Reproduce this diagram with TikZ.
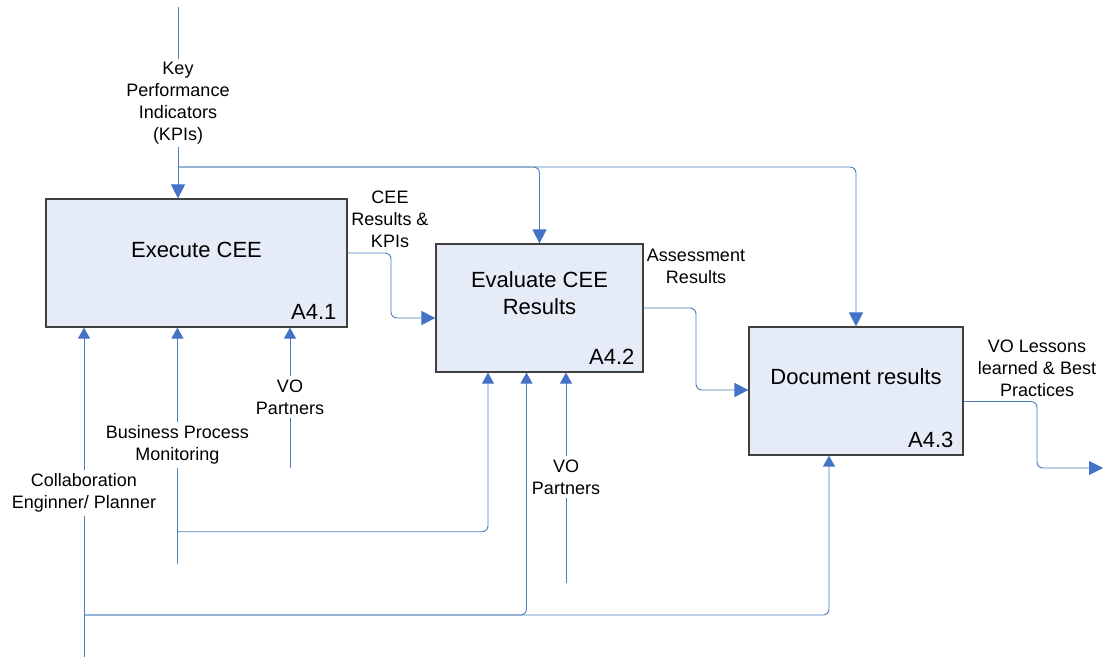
\documentclass[tikz,border=0pt]{standalone}
\usepackage{fontspec}
\setmainfont{Liberation Sans}
\usetikzlibrary{arrows.meta}
\definecolor{flowblue}{HTML}{4A7EBB}
\definecolor{tipblue}{HTML}{4472C4}
\definecolor{boxfill}{HTML}{E6ECF7}
\definecolor{boxline}{HTML}{404040}
\begin{document}
\begin{tikzpicture}[x=1pt,y=-1pt,
  flow/.style={draw=flowblue,line width=0.9pt,rounded corners=6pt},
  bigtip/.style={-{Triangle[length=14pt,width=14pt,fill=tipblue,color=tipblue]}},
  smalltip/.style={-{Triangle[length=11pt,width=12pt,fill=tipblue,color=tipblue]}},
  actbox/.style={draw=boxline,fill=boxfill,line width=1.2pt,inner sep=0pt},
  acttitle/.style={align=center,font=\fontsize{22}{26.5}\selectfont,inner sep=0pt},
  actid/.style={font=\fontsize{22}{26}\selectfont,inner sep=0pt,anchor=base east},
  lbl/.style={align=center,font=\fontsize{18}{22}\selectfont,inner sep=3pt}]
\useasboundingbox (0,0) rectangle (1103,657);

% activity boxes
\node[actbox,minimum width=301pt,minimum height=128pt] (b1) at (196.5,263) {};
\node[actbox,minimum width=207pt,minimum height=128pt] (b2) at (539.5,308) {};
\node[actbox,minimum width=214pt,minimum height=128pt] (b3) at (856,391) {};

\node[acttitle] (t1) at ([yshift=13pt]b1.center) {Execute CEE};
\node[acttitle] (t2) at ([yshift=15pt]b2.center) {Evaluate CEE\\Results};
\node[acttitle] (t3) at ([yshift=14pt]b3.center) {Document results};

\node[actid] (id1) at ([xshift=-11pt,yshift=8pt]b1.south east) {A4.1};
\node[actid] (id2) at ([xshift=-9pt,yshift=8pt]b2.south east) {A4.2};
\node[actid] (id3) at ([xshift=-10pt,yshift=8pt]b3.south east) {A4.3};

% control: KPIs
\coordinate (kpitop) at (178,7);
\node[lbl] (kpi) at (178,103) {Key\\Performance\\Indicators\\(KPIs)};
\coordinate (j1) at (178,167);
\draw[flow] (kpitop) -- (kpi.north);
\draw[flow,bigtip] (kpi.south) -- (kpi.south |- b1.north);
\draw[flow,bigtip] (j1) -| (b2.north);
\draw[flow,bigtip] (j1) -| (b3.north);

% outputs
\node[lbl] (cee) at (390,219) {CEE\\Results \&\\KPIs};
\draw[flow,bigtip] ([yshift=10pt]b1.east) -- (391,253) -- (391,318) -- ([yshift=-10pt]b2.west);

\node[lbl] (ass) at (696,266) {Assessment\\Results};
\draw[flow,bigtip] (b2.east) -- (696,308) -- (696,390) -- ([yshift=1pt]b3.west);

\node[lbl] (vol) at (1037,368) {VO Lessons\\learned \& Best\\Practices};
\coordinate (outend) at (1103,468);
\draw[flow,bigtip] ([yshift=-10.5pt]b3.east) -- (1037,401.5) -- (1037,468) -- (outend);

% mechanisms
\coordinate (cbot) at (84,657);
\node[lbl] (col) at (84,493) {Collaboration\\Enginner/ Planner};
\coordinate (j2) at (84,615);
\draw[flow] (cbot) -- (col.south);
\draw[flow,smalltip] (col.north) -- (col.north |- b1.south);
\draw[flow,smalltip] (j2) -| ([xshift=-13pt]b2.south);
\draw[flow,smalltip] (j2) -| ([xshift=-27pt]b3.south);

\coordinate (bpmbot) at (177.4,564);
\node[lbl] (bpm) at (177.4,445) {Business Process\\Monitoring};
\coordinate (j3) at (177.4,531.7);
\draw[flow] (bpmbot) -- (bpm.south);
\draw[flow,smalltip] (bpm.north) -- (bpm.north |- b1.south);
\draw[flow,smalltip] (j3) -| ([xshift=-51.5pt]b2.south);

\coordinate (vo1bot) at (290,468);
\node[lbl] (vo1) at (290,397) {VO\\Partners};
\draw[flow] (vo1bot) -- (vo1.south);
\draw[flow,smalltip] (vo1.north) -- (vo1.north |- b1.south);

\coordinate (vo2bot) at (566,583);
\node[lbl] (vo2) at (566,477) {VO\\Partners};
\draw[flow] (vo2bot) -- (vo2.south);
\draw[flow,smalltip] (vo2.north) -- (vo2.north |- b2.south);
\end{tikzpicture}
\end{document}
